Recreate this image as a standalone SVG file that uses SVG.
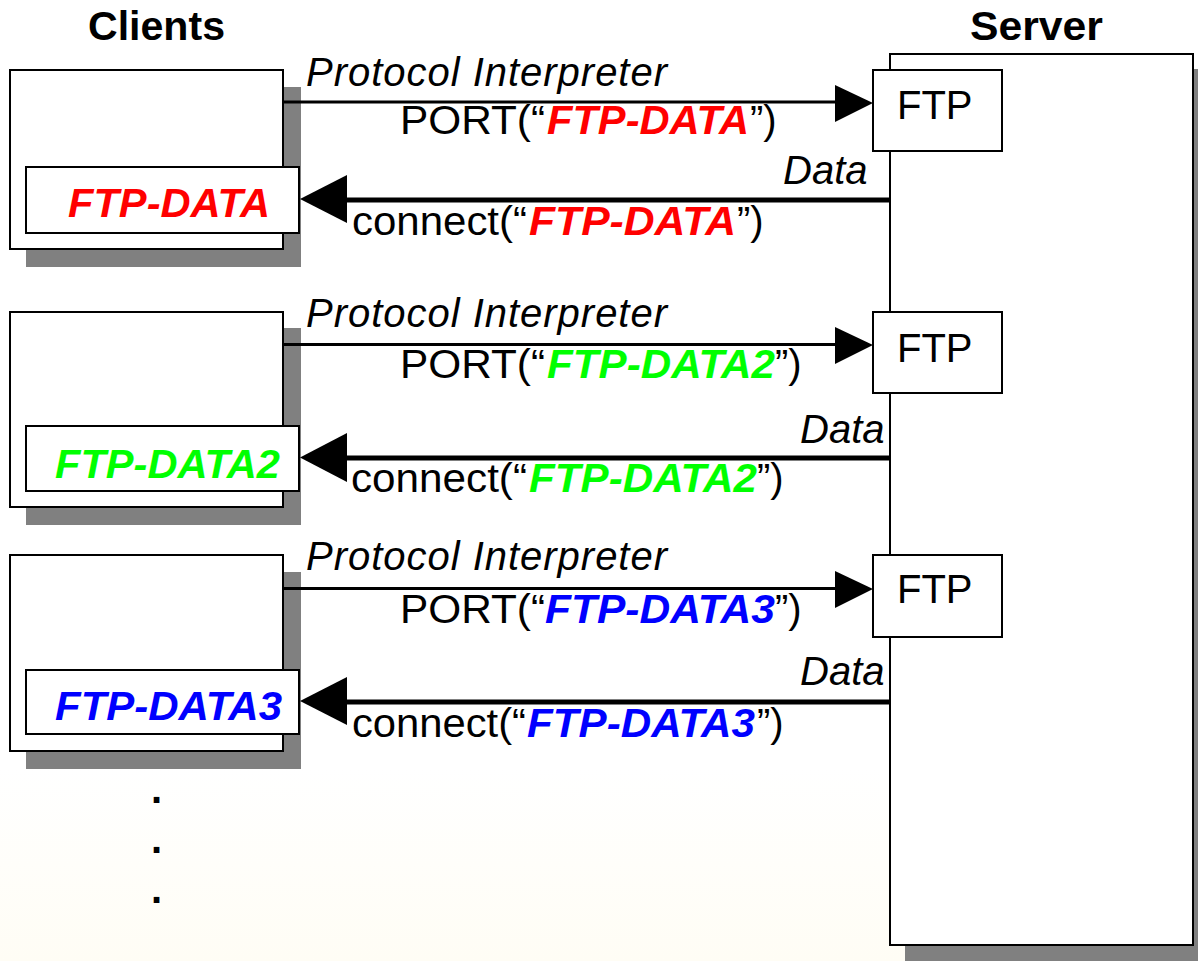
<svg xmlns="http://www.w3.org/2000/svg" width="1198" height="961" viewBox="0 0 1198 961">
<defs>
<linearGradient id="bg" x1="0" y1="0" x2="0" y2="1">
<stop offset="0" stop-color="#ffffff"/>
<stop offset="0.8" stop-color="#ffffff"/>
<stop offset="1" stop-color="#fffdf5"/>
</linearGradient>
<style>
text{font-family:"Liberation Sans",Arial,Helvetica,sans-serif;font-size:40px;fill:#000}
.title{font-weight:bold}
.it{font-style:italic}
.bi{font-weight:bold;font-style:italic}
.red{fill:#ff0000}
.green{fill:#00ff00}
.blue{fill:#0000ff}
.shadow{fill:#808080;stroke:none}
.box{fill:#fff;stroke:#000;stroke-width:2}
.pi{stroke:#000;stroke-width:3;fill:none}
.data{stroke:#000;stroke-width:5;fill:none}
.head{fill:#000;stroke:none}
</style>
</defs>
<rect x="0" y="0" width="1198" height="961" fill="url(#bg)"/>

<text class="title" x="88" y="40" textLength="137" lengthAdjust="spacingAndGlyphs">Clients</text>
<text class="title" x="970" y="40" textLength="133" lengthAdjust="spacingAndGlyphs">Server</text>

<g id="server">
<rect class="shadow" x="905" y="69" width="303" height="892"/>
<rect class="box" x="890" y="54" width="303" height="891"/>
</g>

<g id="ftp1">
<rect class="box" x="873" y="70" width="129" height="81"/>
<text x="897" y="119">FTP</text>
</g>
<g id="ftp2">
<rect class="box" x="873" y="312" width="129" height="81"/>
<text x="897" y="362">FTP</text>
</g>
<g id="ftp3">
<rect class="box" x="873" y="555" width="129" height="82"/>
<text x="897" y="603">FTP</text>
</g>

<g id="client1">
<rect class="shadow" x="26" y="87" width="275" height="180"/>
<rect class="box" x="10" y="70" width="273" height="179"/>
<rect class="box" x="26" y="167" width="273" height="66"/>
<text class="bi red" x="68" y="217" textLength="202" lengthAdjust="spacingAndGlyphs">FTP-DATA</text>
</g>
<g id="client2">
<rect class="shadow" x="26" y="328" width="275" height="197"/>
<rect class="box" x="10" y="312" width="273" height="195"/>
<rect class="box" x="26" y="426" width="273" height="65"/>
<text class="bi green" x="55" y="478" textLength="225" lengthAdjust="spacingAndGlyphs">FTP-DATA2</text>
</g>
<g id="client3">
<rect class="shadow" x="26" y="572" width="275" height="197"/>
<rect class="box" x="10" y="555" width="273" height="196"/>
<rect class="box" x="26" y="670" width="273" height="64"/>
<text class="bi blue" x="55" y="720" textLength="227" lengthAdjust="spacingAndGlyphs">FTP-DATA3</text>
</g>

<g id="connectors">
<line class="pi" x1="282" y1="102" x2="840" y2="102"/>
<polygon class="head" points="835,85 873,103 835,122"/>
<line class="data" x1="890" y1="200" x2="340" y2="200"/>
<polygon class="head" points="347,175 300,199 347,223"/>

<line class="pi" x1="282" y1="344.5" x2="840" y2="344.5"/>
<polygon class="head" points="835,327 873,345 835,364"/>
<line class="data" x1="890" y1="458" x2="340" y2="458"/>
<polygon class="head" points="347,433 300,457.5 347,482"/>

<line class="pi" x1="282" y1="588.5" x2="840" y2="588.5"/>
<polygon class="head" points="835,571 873,589 835,608"/>
<line class="data" x1="890" y1="702" x2="340" y2="702"/>
<polygon class="head" points="347,677 300,701 347,725"/>
</g>

<g id="labels1">
<text class="it" x="306" y="86" textLength="361" lengthAdjust="spacing">Protocol Interpreter</text>
<text x="400" y="134" textLength="145" lengthAdjust="spacingAndGlyphs">PORT(“</text>
<text class="bi red" x="547" y="134" textLength="202" lengthAdjust="spacingAndGlyphs">FTP-DATA</text>
<text x="750" y="134">”)</text>
<text class="it" x="783" y="184">Data</text>
<text x="352" y="235" textLength="175" lengthAdjust="spacingAndGlyphs">connect(“</text>
<text class="bi red" x="529" y="235" textLength="207" lengthAdjust="spacingAndGlyphs">FTP-DATA</text>
<text x="737" y="235">”)</text>
</g>
<g id="labels2">
<text class="it" x="306" y="327" textLength="361" lengthAdjust="spacing">Protocol Interpreter</text>
<text x="400" y="378" textLength="145" lengthAdjust="spacingAndGlyphs">PORT(“</text>
<text class="bi green" x="547" y="378" textLength="228" lengthAdjust="spacingAndGlyphs">FTP-DATA2</text>
<text x="775" y="378">”)</text>
<text class="it" x="800" y="443">Data</text>
<text x="351" y="492" textLength="176" lengthAdjust="spacingAndGlyphs">connect(“</text>
<text class="bi green" x="529" y="492" textLength="228" lengthAdjust="spacingAndGlyphs">FTP-DATA2</text>
<text x="757" y="492">”)</text>
</g>
<g id="labels3">
<text class="it" x="306" y="570" textLength="361" lengthAdjust="spacing">Protocol Interpreter</text>
<text x="400" y="623" textLength="145" lengthAdjust="spacingAndGlyphs">PORT(“</text>
<text class="bi blue" x="545" y="623" textLength="230" lengthAdjust="spacingAndGlyphs">FTP-DATA3</text>
<text x="775" y="623">”)</text>
<text class="it" x="800" y="685">Data</text>
<text x="352" y="737" textLength="174" lengthAdjust="spacingAndGlyphs">connect(“</text>
<text class="bi blue" x="527" y="737" textLength="228" lengthAdjust="spacingAndGlyphs">FTP-DATA3</text>
<text x="757" y="737">”)</text>
</g>

<g id="ellipsis">
<text class="title" x="151" y="803">.</text>
<text class="title" x="151" y="853">.</text>
<text class="title" x="151" y="903">.</text>
</g>
</svg>
